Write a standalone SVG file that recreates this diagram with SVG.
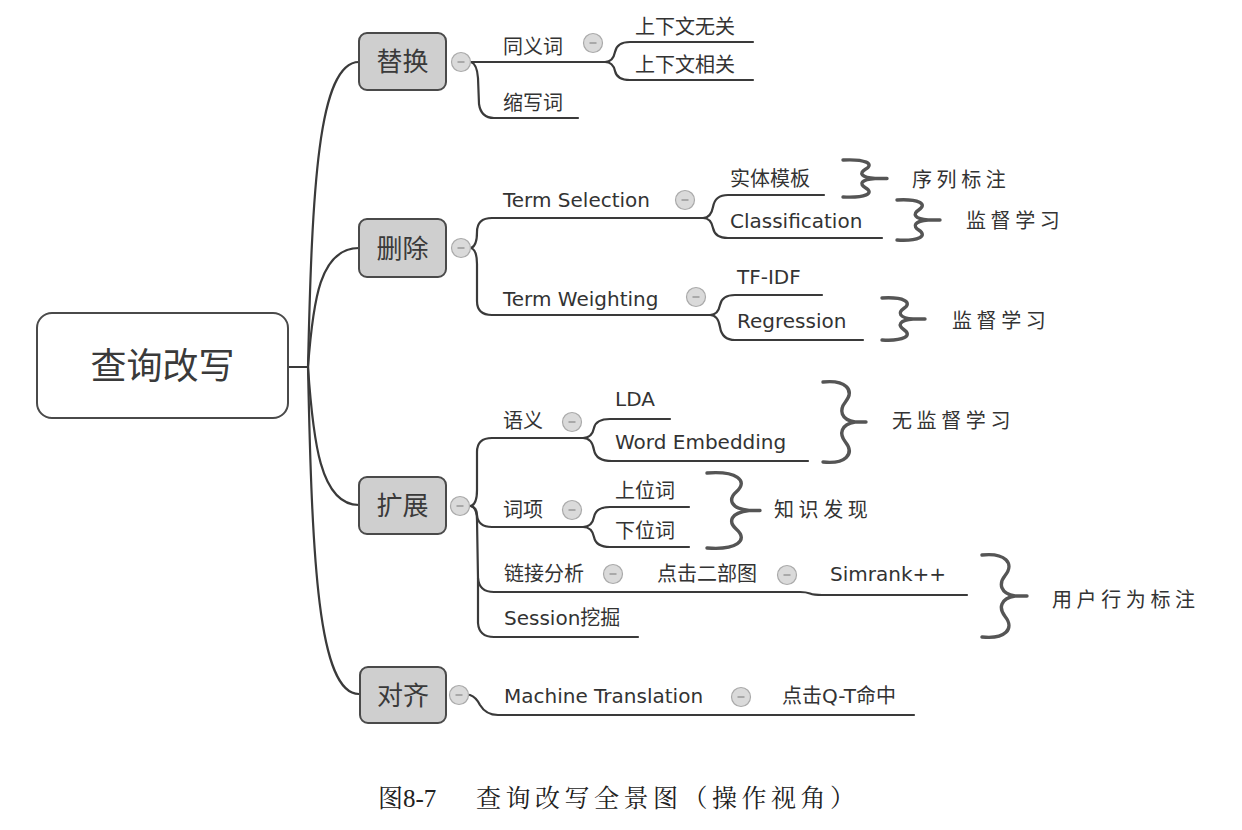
<svg xmlns="http://www.w3.org/2000/svg" xmlns:xlink="http://www.w3.org/1999/xlink" width="1242" height="830" viewBox="0 0 1242 830">
<style>
.ln{fill:none;stroke:#3a3a3a;stroke-width:2.2;stroke-linecap:round;stroke-linejoin:round}
.br{fill:none;stroke:#555;stroke-width:3.4;stroke-linecap:round;stroke-linejoin:round}
.cat{fill:#cfcfcf;stroke:#4a4a4a;stroke-width:2}
.root{fill:#fff;stroke:#4a4a4a;stroke-width:2}
.t{font-family:"DejaVu Sans","Noto Sans CJK SC",sans-serif;font-size:20px;fill:#333}
.ct{font-family:"Noto Sans CJK SC",sans-serif;font-size:26px;fill:#3a3a3a;text-anchor:middle}
.rt{font-family:"Noto Sans CJK SC",sans-serif;font-size:36px;fill:#3a3a3a;text-anchor:middle}
.bl{font-family:"Noto Sans CJK SC",sans-serif;font-size:20px;fill:#333;letter-spacing:4.6px}
.cap{font-family:"Liberation Serif","Noto Serif CJK SC","Noto Sans CJK SC",serif;font-size:25px;fill:#222}
.tg circle{fill:#dadada;stroke:#aaa;stroke-width:1.2}
.tg line{stroke:#888;stroke-width:1.2}
</style>
<defs>
<g id="tog" class="tg"><circle r="9.5"/><line x1="-3.5" y1="0" x2="3.5" y2="0"/></g>
</defs>

<g id="connectors">
<!-- root to categories -->
<path class="ln" d="M288,367 H308"/>
<path class="ln" d="M308,367 C312,190 318,62 359,62"/>
<path class="ln" d="M308,367 C313,300 320,248 359,248"/>
<path class="ln" d="M308,367 C313,440 320,505 359,505"/>
<path class="ln" d="M308,367 C312,560 318,694 359,694"/>
<!-- 替换 -->
<path class="ln" d="M471,62 H605"/>
<path class="ln" d="M605,62 Q613,62 615,52 Q617,42 630,42 H753"/>
<path class="ln" d="M605,62 Q613,62 615,71 Q617,80 630,80 H753"/>
<path class="ln" d="M471,62 Q477,64 478,78 L479,104 Q481,118 494,118 H578"/>
<!-- 删除 -->
<path class="ln" d="M471,248 Q477,246 477,232 Q477,218 492,218 H703"/>
<path class="ln" d="M471,248 Q477,250 477,264 L477,301 Q477,315 492,315 H710"/>
<path class="ln" d="M703,218 Q711,218 713,207 Q715,195 728,195 H824"/>
<path class="ln" d="M703,218 Q711,218 713,228 Q715,238 728,238 H882"/>
<path class="ln" d="M710,315 Q718,315 720,305 Q722,295 735,295 H822"/>
<path class="ln" d="M710,315 Q718,315 720,327 Q722,340 735,340 H863"/>
<!-- 扩展 -->
<path class="ln" d="M471,506 Q477,504 477,490 L477,452 Q477,438 492,438 H583"/>
<path class="ln" d="M471,506 Q477,508 477,515 Q478,527 492,527 H583"/>
<path class="ln" d="M471,506 Q477,508 477,520 L478,578 Q479,592 494,592 H800 Q806,592 810,593.5 Q814,595 822,595 H967"/>
<path class="ln" d="M478,578 L478,623 Q479,637 494,637 H638"/>
<path class="ln" d="M583,438 Q592,438 594,428 Q596,419 610,419 H670"/>
<path class="ln" d="M583,438 Q592,438 594,450 Q596,461 612,461 H808"/>
<path class="ln" d="M583,527 Q592,527 594,517 Q596,507 610,507 H689"/>
<path class="ln" d="M583,527 Q592,527 594,537 Q596,547 610,547 H689"/>
<!-- 对齐 -->
<path class="ln" d="M470,695 Q476,697 480,705 Q486,715 498,715 H914"/>
<!-- braces -->
<path class="br" d="M843,160 C865.4,158.9 875,163.7 865.4,169.25 C859,172.95 860.6,177.4 875,178.5 C860.6,179.6 859,184.05 865.4,187.75 C875,193.3 865.4,198.1 843,197 M875,178.5 H887"/>
<path class="br" d="M897,200 C918.7,198.8 928,204 918.7,210 C912.5,214 914.05,218.8 928,220 C914.05,221.2 912.5,226 918.7,230 C928,236 918.7,241.2 897,240 M928,220 H940"/>
<path class="br" d="M882,298 C903.7,296.74 913,302.2 903.7,308.5 C897.5,312.7 899.05,317.74 913,319 C899.05,320.26 897.5,325.3 903.7,329.5 C913,335.8 903.7,341.26 882,340 M913,319 H925"/>
<path class="br" d="M823,382 C845.4,379.6 855,390 845.4,402 C839,410 840.6,419.6 855,422 C840.6,424.4 839,434 845.4,442 C855,454 845.4,464.4 823,462 M855,422 H866"/>
<path class="br" d="M707,473 C736.4,470.75 749,480.5 736.4,491.75 C728,499.25 730.1,508.25 749,510.5 C730.1,512.75 728,521.75 736.4,529.25 C749,540.5 736.4,550.25 707,548 M749,510.5 H760"/>
<path class="br" d="M982,555 C1005.1,552.54 1015,563.2 1005.1,575.5 C998.5,583.7 1000.15,593.54 1015,596 C1000.15,598.46 998.5,608.3 1005.1,616.5 C1015,628.8 1005.1,639.46 982,637 M1015,596 H1027"/>
</g>

<g id="root">
<rect class="root" x="37" y="313" width="251" height="105" rx="15"/>
<text class="rt" x="162.5" y="379">查询改写</text>
</g>

<g id="n-tihuan">
<rect class="cat" x="359" y="33" width="87" height="57" rx="8"/>
<text class="ct" x="402.5" y="71">替换</text>
<use xlink:href="#tog" x="461" y="62"/>
</g>
<g id="n-tongyici"><text class="t" x="503" y="54">同义词</text><use xlink:href="#tog" x="593" y="43"/></g>
<g id="n-wuguan"><text class="t" x="635" y="34">上下文无关</text></g>
<g id="n-xiangguan"><text class="t" x="635" y="72">上下文相关</text></g>
<g id="n-suoxieci"><text class="t" x="503" y="110">缩写词</text></g>

<g id="n-shanchu">
<rect class="cat" x="359" y="219" width="87" height="58" rx="8"/>
<text class="ct" x="402.5" y="258">删除</text>
<use xlink:href="#tog" x="461" y="248"/>
</g>
<g id="n-termsel"><text class="t" x="503" y="207">Term Selection</text><use xlink:href="#tog" x="685" y="200"/></g>
<g id="n-shiti"><text class="t" x="730" y="186">实体模板</text></g>
<g id="n-class"><text class="t" x="730" y="228">Classification</text></g>
<g id="n-termw"><text class="t" x="503" y="306">Term Weighting</text><use xlink:href="#tog" x="696" y="297"/></g>
<g id="n-tfidf"><text class="t" x="737" y="284">TF-IDF</text></g>
<g id="n-regr"><text class="t" x="737" y="328">Regression</text></g>
<g id="l-xulie"><text class="bl" x="912" y="187">序列标注</text></g>
<g id="l-jiandu1"><text class="bl" x="966" y="228">监督学习</text></g>
<g id="l-jiandu2"><text class="bl" x="952" y="328">监督学习</text></g>

<g id="n-kuozhan">
<rect class="cat" x="359" y="477" width="87" height="57" rx="8"/>
<text class="ct" x="402.5" y="515">扩展</text>
<use xlink:href="#tog" x="460" y="506"/>
</g>
<g id="n-yuyi"><text class="t" x="503" y="428">语义</text><use xlink:href="#tog" x="572" y="422"/></g>
<g id="n-lda"><text class="t" x="615" y="406">LDA</text></g>
<g id="n-we"><text class="t" x="615" y="449">Word Embedding</text></g>
<g id="n-cixiang"><text class="t" x="503" y="517">词项</text><use xlink:href="#tog" x="572" y="510"/></g>
<g id="n-shangwei"><text class="t" x="615" y="498">上位词</text></g>
<g id="n-xiawei"><text class="t" x="615" y="538">下位词</text></g>
<g id="n-lianjie"><text class="t" x="504" y="581">链接分析</text><use xlink:href="#tog" x="613" y="574"/></g>
<g id="n-dianji"><text class="t" x="657" y="581">点击二部图</text><use xlink:href="#tog" x="787" y="575"/></g>
<g id="n-simrank"><text class="t" x="830" y="581">Simrank++</text></g>
<g id="n-session"><text class="t" x="504" y="625">Session挖掘</text></g>
<g id="l-wujiandu"><text class="bl" x="892" y="428">无监督学习</text></g>
<g id="l-zhishi"><text class="bl" x="774" y="517">知识发现</text></g>
<g id="l-yonghu"><text class="bl" x="1052" y="607">用户行为标注</text></g>

<g id="n-duiqi">
<rect class="cat" x="360" y="667" width="86" height="56" rx="8"/>
<text class="ct" x="403" y="705">对齐</text>
<use xlink:href="#tog" x="459" y="695"/>
</g>
<g id="n-mt"><text class="t" x="504" y="703">Machine Translation</text><use xlink:href="#tog" x="741" y="697"/></g>
<g id="n-qt"><text class="t" x="782" y="703">点击Q-T命中</text></g>

<text class="cap" x="378" y="807">图8-7<tspan x="476" letter-spacing="4.5">查询改写全景图（操作视角）</tspan></text>
</svg>
